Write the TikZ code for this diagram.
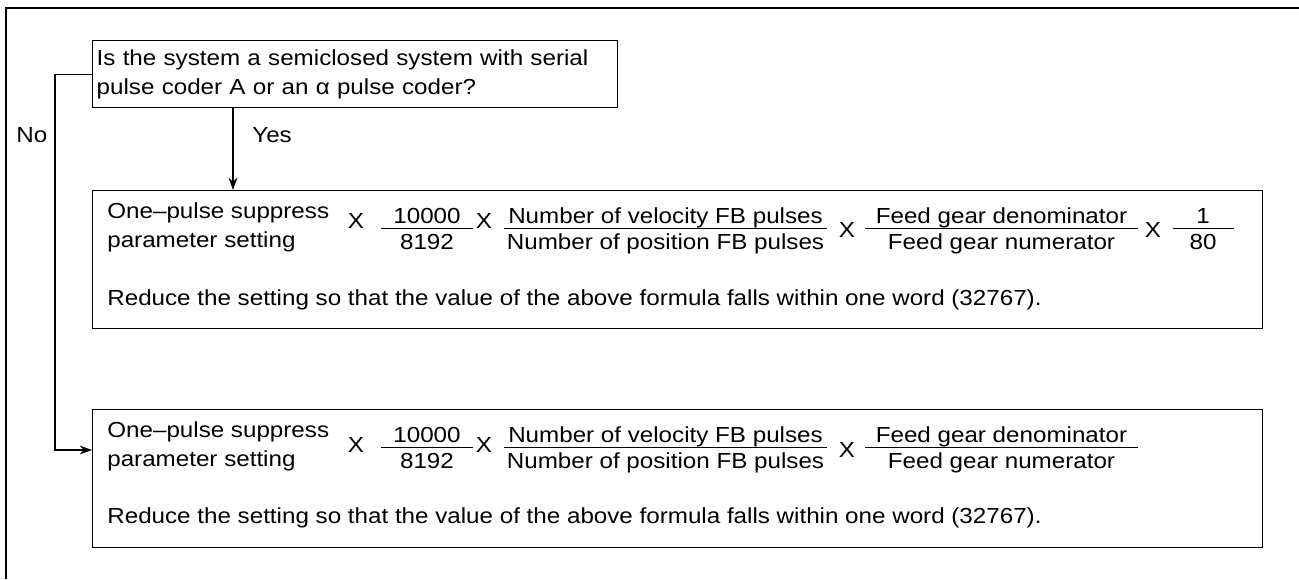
\documentclass[tikz,border=0pt]{standalone}
\usepackage{fontspec}
\setmainfont{Liberation Sans}[FakeStretch=1.11]
\usepackage{tikz}
\usetikzlibrary{arrows.meta,positioning,calc}
\setlength{\arrayrulewidth}{0.6pt}
\newcommand{\fracbox}[3]{\begin{tabular}[t]{@{}c@{}}\makebox[#1]{#2}\\[-2pt]\hline\makebox[#1]{#3}\end{tabular}}

\begin{document}
\begin{tikzpicture}[x=0.02cm, y=-0.02cm,
    font=\fontsize{12.4}{16.5}\selectfont,
    box/.style={rectangle, draw, line width=0.8pt, inner sep=0pt},
    txt/.style={inner sep=0pt, align=left},
    lbl/.style={inner sep=0pt},
    arrow/.style={-{Stealth[length=7pt,width=5pt]}, line width=0.6pt},
    frame/.style={line width=1.5pt}
]
\useasboundingbox (0,0) rectangle (1299,579);
% page frame
\draw[frame] (1299,8) -- (6,8) -- (6,579);

% question
\node[box, anchor=north west, minimum width=10.5cm, minimum height=1.34cm, text width=10.34cm, inner xsep=0.08cm, align=left] (q) at (92,40)
  {\mbox{Is the system a semiclosed system with serial}\\pulse coder A or an α pulse coder?};

% yes branch
\node[box, anchor=north west, minimum width=23.4cm, minimum height=2.76cm] (yesbox) at (92,190) {};
\node[txt, anchor=north west] (yeslbl) at (107,202) {One–pulse suppress\\parameter setting};
\node[lbl, anchor=base] (yesx1) at (356,228) {X};
\node[lbl, anchor=base] (yesf1) at (427,223) {\fracbox{1.84cm}{10000}{8192}};
\node[lbl, anchor=base] (yesx2) at (484,228) {X};
\node[lbl, anchor=base] (yesf2) at (665.5,223) {\fracbox{6.46cm}{Number of velocity FB pulses}{Number of position FB pulses}};
\node[lbl, anchor=base] (yesx3) at (847,237) {X};
\node[lbl, anchor=base] (yesf3) at (1001.5,223) {\fracbox{5.46cm}{Feed gear denominator}{Feed gear numerator}};
\node[lbl, anchor=base] (yesx4) at (1153,237) {X};
\node[lbl, anchor=base] (yesf4) at (1203,223) {\fracbox{1.22cm}{1}{80}};
\node[lbl, anchor=base west] (yesnote) at (107,305) {Reduce the setting so that the value of the above formula falls within one word (32767).};

% no branch
\node[box, anchor=north west, minimum width=23.4cm, minimum height=2.76cm] (nobox) at (92,409) {};
\node[txt, anchor=north west] (nolbl) at (107,421) {One–pulse suppress\\parameter setting};
\node[lbl, anchor=base] (nox1) at (356,452) {X};
\node[lbl, anchor=base] (nof1) at (427,442) {\fracbox{1.84cm}{10000}{8192}};
\node[lbl, anchor=base] (nox2) at (484,452) {X};
\node[lbl, anchor=base] (nof2) at (665.5,442) {\fracbox{6.46cm}{Number of velocity FB pulses}{Number of position FB pulses}};
\node[lbl, anchor=base] (nox3) at (847,457) {X};
\node[lbl, anchor=base] (nof3) at (1001.5,442) {\fracbox{5.46cm}{Feed gear denominator}{Feed gear numerator}};
\node[lbl, anchor=base west] (nonote) at (107,523) {Reduce the setting so that the value of the above formula falls within one word (32767).};

% connectors
\draw[arrow] ([xshift=2.82cm]q.south west) -- ([xshift=2.82cm]yesbox.north west);
\node[lbl, anchor=west] (yes) at (252,135) {Yes};
\draw[arrow] (q.west) -- ++(-0.74cm,0) |- ([yshift=-0.82cm]nobox.north west);
\node[lbl, anchor=west] (no) at (16,135) {No};
\end{tikzpicture}
\end{document}
